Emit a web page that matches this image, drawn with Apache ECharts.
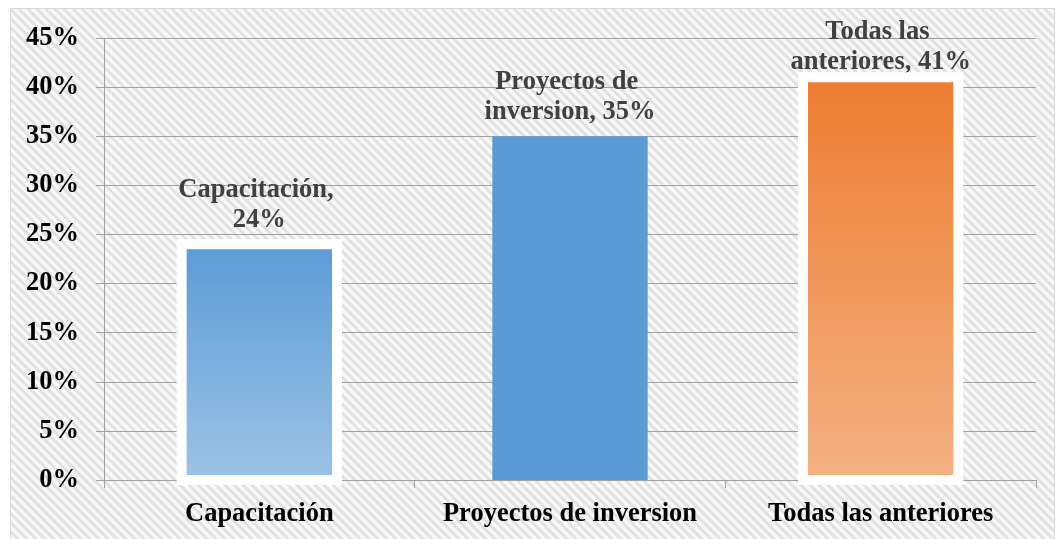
<!DOCTYPE html>
<html>
<head>
<meta charset="utf-8">
<script src="https://cdn.jsdelivr.net/npm/echarts@6/dist/echarts.min.js"></script>
<style>
html,body{margin:0;padding:0;background:#fff;}
#chart{width:1061px;height:539px;}
</style>
</head>
<body>
<div id="chart"></div>
<script>
// Data
const categories = ['Capacitación', 'Proyectos de inversion', 'Todas las anteriores'];
const values = [0.24, 0.35, 0.41];
const yTicks = [0, 0.05, 0.10, 0.15, 0.20, 0.25, 0.30, 0.35, 0.40, 0.45];

const FONT = "'Liberation Serif', 'Times New Roman', serif";
const FS = 26.5;

// striped background tile
function makeStripe() {
  const n = 9;
  const c = document.createElement('canvas');
  c.width = n; c.height = n;
  const ctx = c.getContext('2d');
  const img = ctx.createImageData(n, n);
  for (let y = 0; y < n; y++) {
    for (let x = 0; x < n; x++) {
      const k = (((x - y) % n) + n) % n;
      let v;
      if (k < 3) v = 0xe1; else if (k === 3 || k === 8) v = 0xec; else v = 0xf9;
      const i = (y * n + x) * 4;
      img.data[i] = v; img.data[i + 1] = v; img.data[i + 2] = v; img.data[i + 3] = 255;
    }
  }
  ctx.putImageData(img, 0, 0);
  return c;
}

const fills = [
  new echarts.graphic.LinearGradient(0, 0, 0, 1, [{offset: 0, color: '#5b9bd5'}, {offset: 1, color: '#9dc3e6'}]),
  '#5b9bd5',
  new echarts.graphic.LinearGradient(0, 0, 0, 1, [{offset: 0, color: '#ed7d31'}, {offset: 1, color: '#f4b183'}])
];
const framed = [true, false, true];
const labelDist = [9, 9, 0];
const BAR_RATIO = 0.5;

const chart = echarts.init(document.getElementById('chart'), null, {renderer: 'canvas'});
chart.setOption({
  animation: false,
  backgroundColor: '#ffffff',
  graphic: [{
    type: 'rect', z: -10, silent: true,
    shape: {x: 10.5, y: 8.5, width: 1044, height: 540},
    style: {fill: {image: makeStripe(), repeat: 'repeat'}, stroke: '#d9d9d9', lineWidth: 1}
  }],
  grid: {left: 104, right: 25, top: 38, bottom: 59, containLabel: false, outerBoundsMode: 'none'},
  xAxis: {
    type: 'category',
    data: categories,
    axisLine: {show: true, lineStyle: {color: '#a0a0a0', width: 1}},
    axisTick: {show: true, length: 8, lineStyle: {color: '#a0a0a0'}},
    axisLabel: {color: '#000', fontFamily: FONT, fontWeight: 'bold', fontSize: FS, margin: 21, interval: 0}
  },
  yAxis: {
    type: 'value',
    min: yTicks[0], max: yTicks[yTicks.length - 1], interval: 0.05,
    axisLine: {show: true, lineStyle: {color: '#a0a0a0', width: 1}},
    axisTick: {show: true, length: 8, lineStyle: {color: '#a0a0a0'}},
    splitLine: {show: true, lineStyle: {color: '#a0a0a0', width: 1}},
    axisLabel: {color: '#000', fontFamily: FONT, fontWeight: 'bold', fontSize: FS, margin: 25,
      formatter: v => Math.round(v * 100) + '%'}
  },
  series: [{
    type: 'bar',
    barWidth: (BAR_RATIO * 100) + '%',
    z: 2,
    data: values.map((v, i) => ({
      value: v,
      itemStyle: {color: fills[i]},
      label: {distance: labelDist[i]}
    })),
    label: {
      show: true,
      position: 'top',
      color: '#404040',
      fontFamily: FONT,
      fontWeight: 'bold',
      fontSize: FS,
      lineHeight: 30,
      width: 190,
      overflow: 'break',
      align: 'center',
      formatter: p => p.name + ', ' + Math.round(p.value * 100) + '%'
    }
  }, {
    // white frames around bars 1 and 3 (stroke centred on bar edge)
    type: 'custom',
    z: 3,
    silent: true,
    clip: false,
    encode: {x: 0, y: 1},
    data: values.map((v, i) => [i, v]),
    renderItem: (params, api) => {
      const i = api.value(0);
      if (!framed[i]) return null;
      const top = api.coord([i, api.value(1)]);
      const base = api.coord([i, 0]);
      const w = api.size([1, 0])[0] * BAR_RATIO;
      return {
        type: 'rect',
        shape: {x: top[0] - w / 2, y: top[1], width: w, height: base[1] - top[1]},
        style: {fill: 'none', stroke: '#ffffff', lineWidth: 10}
      };
    }
  }]
});
</script>
</body>
</html>
